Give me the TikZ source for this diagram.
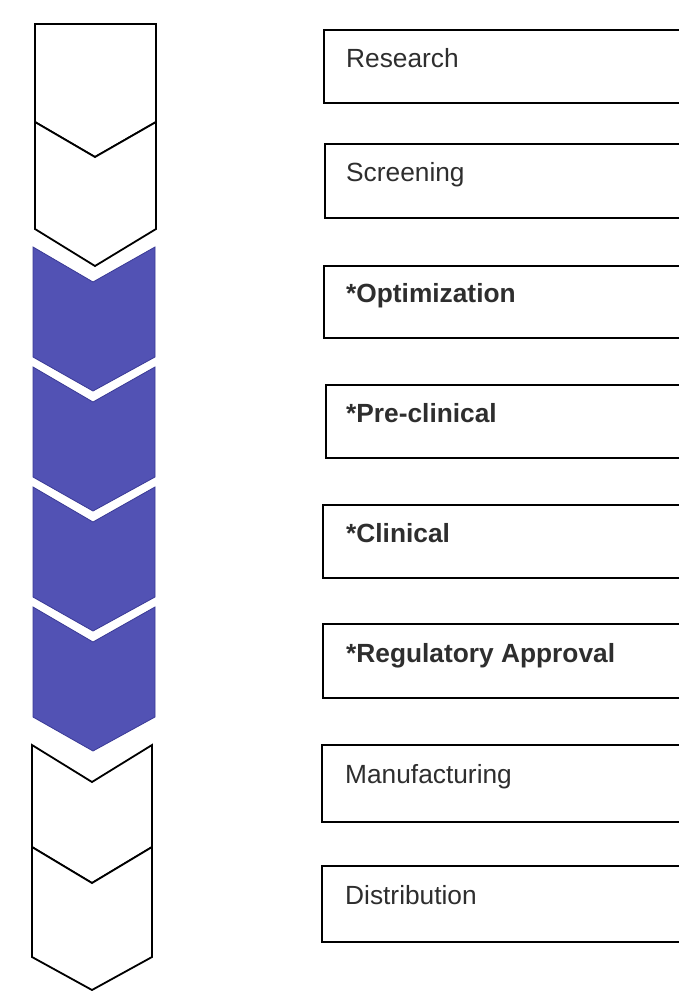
\documentclass[tikz,border=0pt]{standalone}
\usepackage{fontspec}
\setmainfont{Liberation Sans}
\definecolor{chevblue}{RGB}{82,82,180}
\definecolor{chevedge}{RGB}{58,58,150}
\begin{document}
\begin{tikzpicture}[x=1pt,y=-1pt,
  whitechev/.style={draw=black,line width=1.8pt,fill=white,line join=miter},
  bluechev/.style={draw=chevedge,line width=0.8pt,fill=chevblue,line join=miter},
  stagebox/.style={draw=black,line width=1.8pt},
  stagelabel/.style={anchor=base west,inner sep=0pt,font=\fontsize{26.3}{30}\selectfont,text=black!82},
  boldlabel/.style={stagelabel,font=\fontsize{26.3}{30}\selectfont\bfseries}]
\useasboundingbox (0,0) rectangle (678,991);
\fill[white] (0,0) rectangle (678,991);
% white chevrons (top)
\draw[whitechev] (35,24) -- (156,24) -- (156,122) -- (95,157) -- (35,122) -- cycle;
\draw[whitechev] (35,122) -- (95,157) -- (156,122) -- (156,229) -- (95,266) -- (35,229) -- cycle;
% blue chevrons
\foreach \t in {247,367,487,607}{
  \draw[bluechev] (33,\t) -- (93,\t+35) -- (155,\t) -- (155,\t+110) -- (93,\t+144) -- (33,\t+110) -- cycle;
}
% white chevrons (bottom)
\draw[whitechev] (32,745) -- (92,782) -- (152,745) -- (152,847) -- (92,883) -- (32,847) -- cycle;
\draw[whitechev] (32,847) -- (92,883) -- (152,847) -- (152,957) -- (92,990) -- (32,957) -- cycle;
% stage boxes
\draw[stagebox] (324,30) rectangle (700,103);
\node[stagelabel] (research) at (346,67) {Research};
\draw[stagebox] (325,144) rectangle (700,218);
\node[stagelabel] (screening) at (346,181) {Screening};
\draw[stagebox] (324,266) rectangle (700,338);
\node[boldlabel] (optimization) at (346,302) {*Optimization};
\draw[stagebox] (326,385) rectangle (700,458);
\node[boldlabel] (preclinical) at (346,422) {*Pre-clinical};
\draw[stagebox] (323,505) rectangle (700,578);
\node[boldlabel] (clinical) at (346,542) {*Clinical};
\draw[stagebox] (323,624) rectangle (700,698);
\node[boldlabel] (regulatory) at (346,662) {*Regulatory Approval};
\draw[stagebox] (322,745) rectangle (700,822);
\node[stagelabel] (manufacturing) at (345,783) {Manufacturing};
\draw[stagebox] (322,866) rectangle (700,942);
\node[stagelabel] (distribution) at (345,904) {Distribution};
\end{tikzpicture}
\end{document}
